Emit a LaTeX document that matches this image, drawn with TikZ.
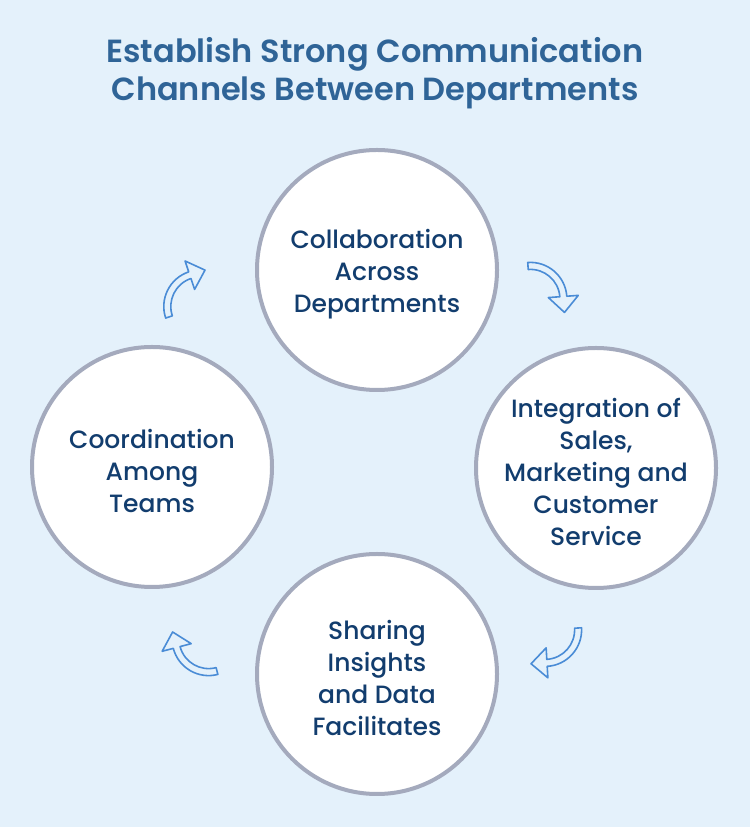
\documentclass[tikz,border=0pt]{standalone}
\usepackage{fontspec}
\setmainfont{Poppins}
\newfontfamily\mediumfont{Poppins Medium}
\newfontfamily\semifont{Poppins SemiBold}
\definecolor{bg}{HTML}{E4F1FB}
\definecolor{ring}{HTML}{A4AABD}
\definecolor{txt}{HTML}{123D6E}
\definecolor{ttl}{HTML}{2F6497}
\definecolor{arr}{HTML}{4A8CD6}
\definecolor{arrfill}{HTML}{E4F1FB}
\tikzset{
  stage/.style={circle, draw=ring, line width=4pt, fill=white, minimum size=240pt, inner sep=0pt,
    align=center},
  stagetext/.style={text=txt, align=center, font=\mediumfont\fontsize{25}{32}\selectfont},
  cyclearrow/.style={draw=arr, fill=arrfill, line width=1.6pt, line join=round},
}
\newcommand{\cyclearrowshape}{%
  (0,36.5) arc[start angle=90, end angle=0, radius=36.5pt] -- (48,0) -- (33,-16) -- (18,0) -- (29.5,0)
  arc[start angle=0, end angle=90, radius=29.5pt] -- cycle}
\begin{document}
\begin{tikzpicture}[x=1pt,y=1pt]
\fill[bg] (0,0) rectangle (750,827);
\useasboundingbox (0,0) rectangle (750,827);
\node[text=ttl, align=center, font=\semifont\fontsize{32}{38}\selectfont] (title) at (375,754) {Establish Strong Communication\\Channels Between Departments};
\node[stage] (top) at (377,557) {};
\node[stage] (right) at (596,359) {};
\node[stage] (bottom) at (377,153) {};
\node[stage] (left) at (152,360) {};
\node[stagetext] (toptext) at ([yshift=-4pt]top.center) {Collaboration\\Across\\Departments};
\node[stagetext] (righttext) at ([yshift=-4pt]right.center) {Integration of\\Sales,\\Marketing and\\Customer\\Service};
\node[stagetext] (bottomtext) at ([yshift=-4pt]bottom.center) {Sharing\\Insights\\and Data\\Facilitates};
\node[stagetext] (lefttext) at ([yshift=-4pt]left.center) {Coordination\\Among\\Teams};
\begin{scope}[shift={(200.3,520.5)}, rotate=108.5]
  \draw[cyclearrow] \cyclearrowshape;
\end{scope}
\begin{scope}[shift={(530.4,528.1)}, rotate=4.2]
  \draw[cyclearrow] \cyclearrowshape;
\end{scope}
\begin{scope}[shift={(545.1,197.1)}, rotate=-86.7]
  \draw[cyclearrow] \cyclearrowshape;
\end{scope}
\begin{scope}[shift={(208.6,187.9)}, rotate=194.7]
  \draw[cyclearrow] \cyclearrowshape;
\end{scope}
\end{tikzpicture}
\end{document}
